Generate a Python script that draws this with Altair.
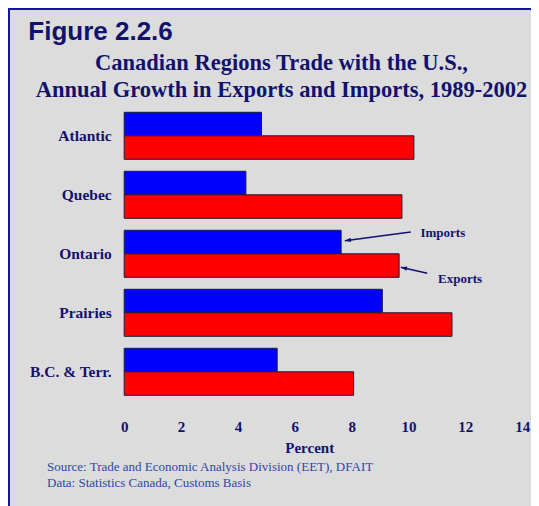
import altair as alt
import pandas as pd

regions = ["Atlantic", "Quebec", "Ontario", "Prairies", "B.C. & Terr."]
imports = [4.83, 4.28, 7.63, 9.08, 5.38]
exports = [10.19, 9.77, 9.67, 11.53, 8.07]
series = ["Imports", "Exports"]
colors = ["#0000FF", "#FF0000"]
x_ticks = [0, 2, 4, 6, 8, 10, 12, 14]

# annotation arrows (x in percent, y in region-index units)
arrow_id = ["imp", "imp", "exp", "exp"]
arrow_x = [10.08, 7.76, 10.66, 9.73]
arrow_y = [2.131, 2.278, 2.831, 2.729]
arrow_head_angle = [352.5, 12.7]
note_text = ["Imports", "Exports"]
note_x = [10.42, 11.04]
note_y = [2.147, 2.932]

NAVY = "#12126E"
SERIF = "Liberation Serif"

rows = []
for r, i, e in zip(regions, imports, exports):
    rows.append({"region": r, "type": "Imports", "value": i})
    rows.append({"region": r, "type": "Exports", "value": e})
df = pd.DataFrame(rows)

W, H = 398, 295
TOTAL_W, TOTAL_H = 523, 498

xscale = alt.Scale(domain=[0, 14], nice=False, zero=True)

bars = alt.Chart(df).mark_bar(stroke="#1a1a3a", strokeWidth=1).encode(
    x=alt.X("value:Q", scale=xscale,
            axis=alt.Axis(values=x_ticks, grid=False, domain=False, ticks=False,
                          labelFont=SERIF, labelFontSize=15, labelFontWeight="bold",
                          labelColor=NAVY, labelPadding=25, labelBaseline="middle",
                          labelFlush=False, labelOverlap=False, labelBound=False,
                          title="Percent", titleFont=SERIF, titleFontSize=15,
                          titleFontWeight="bold", titleColor=NAVY,
                          titleX=185, titleY=46, titleBaseline="middle",
                          titleAlign="center")),
    y=alt.Y("region:N", sort=regions,
            scale=alt.Scale(paddingInner=0.203, paddingOuter=0.1015),
            axis=alt.Axis(title=None, domain=False, ticks=False,
                          labelFont=SERIF, labelFontSize=15.5, labelFontWeight="bold",
                          labelColor=NAVY, labelPadding=13)),
    yOffset=alt.YOffset("type:N", sort=series,
                        scale=alt.Scale(paddingInner=0, paddingOuter=0)),
    color=alt.Color("type:N", scale=alt.Scale(domain=series, range=colors), legend=None),
)

arr_df = pd.DataFrame({"id": arrow_id, "x": arrow_x, "y": arrow_y,
                       "ord": [0, 1, 0, 1]})
yq = alt.Scale(domain=[0, 5], reverse=True, nice=False, zero=False)

arrow_lines = alt.Chart(arr_df).mark_line(color=NAVY, strokeWidth=1.6).encode(
    x=alt.X("x:Q", scale=xscale),
    y=alt.Y("y:Q", scale=yq, axis=None),
    detail="id:N",
    order="ord:Q",
)

head_df = pd.DataFrame({"x": [arrow_x[1], arrow_x[3]], "y": [arrow_y[1], arrow_y[3]],
                        "angle": arrow_head_angle})
arrow_heads = alt.Chart(head_df).mark_point(
    shape="M0,0 L1.6,-0.55 L1.6,0.55 Z", filled=True, color=NAVY, size=60,
    opacity=1, strokeWidth=0
).encode(
    x=alt.X("x:Q", scale=xscale),
    y=alt.Y("y:Q", scale=yq, axis=None),
    angle=alt.Angle("angle:Q", scale=None),
)

note_df = pd.DataFrame({"t": note_text, "x": note_x, "y": note_y})
notes = alt.Chart(note_df).mark_text(
    font=SERIF, fontSize=13, fontWeight="bold", color=NAVY, align="left",
    baseline="middle"
).encode(
    x=alt.X("x:Q", scale=xscale),
    y=alt.Y("y:Q", scale=yq, axis=None),
    text="t:N",
)

one = pd.DataFrame({"a": [0]})

def label(text, x, y, size, font, weight, color, align="left", baseline="alphabetic"):
    return alt.Chart(one).mark_text(
        text=text, font=font, fontSize=size, fontWeight=weight, color=color,
        align=align, baseline=baseline
    ).encode(x=alt.value(x), y=alt.value(y))

OX, OY = 116.2, 98.3  # plot origin inside chart
fig_title = label("Figure 2.2.6", 28.3 - 8 - OX, 40 - 8 - OY, 26,
                  "Liberation Sans", "bold", NAVY)
sub1 = label("Canadian Regions Trade with the U.S.,", 281.5 - 8 - OX, 70 - 8 - OY,
             22.5, SERIF, "bold", NAVY, align="center")
sub2 = label("Annual Growth in Exports and Imports, 1989-2002", 281.5 - 8 - OX,
             96.7 - 8 - OY, 22.5, SERIF, "bold", NAVY, align="center")
src1 = label("Source: Trade and Economic Analysis Division (EET), DFAIT",
             47 - 8 - OX, 466.5 - 8 - OY, 13, SERIF, "normal", "#2A48A8",
             baseline="middle")
src2 = label("Data: Statistics Canada, Customs Basis",
             47 - 8 - OX, 482.5 - 8 - OY, 13, SERIF, "normal", "#2A48A8",
             baseline="middle")

BORDER = "#1414A0"
left_border = alt.Chart(one).mark_rule(color=BORDER, strokeWidth=3).encode(
    x=alt.value(-OX + 0.5), y=alt.value(-OY), y2=alt.value(600)
)
top_border = alt.Chart(one).mark_rule(color=BORDER, strokeWidth=2.5).encode(
    x=alt.value(-OX), x2=alt.value(600), y=alt.value(-OY + 0.8)
)

chart = alt.layer(
    bars, arrow_lines, arrow_heads, notes,
    fig_title, sub1, sub2, src1, src2, left_border, top_border
).resolve_scale(y="independent").properties(
    width=W, height=H,
    autosize=alt.AutoSizeParams(type="none"),
    padding={"left": OX, "top": OY, "right": TOTAL_W - OX - W,
             "bottom": TOTAL_H - OY - H},
    background="#DCDCDC",
).configure_view(stroke=None)

chart.save("out.html", embed_options={"renderer": "svg", "actions": False})
